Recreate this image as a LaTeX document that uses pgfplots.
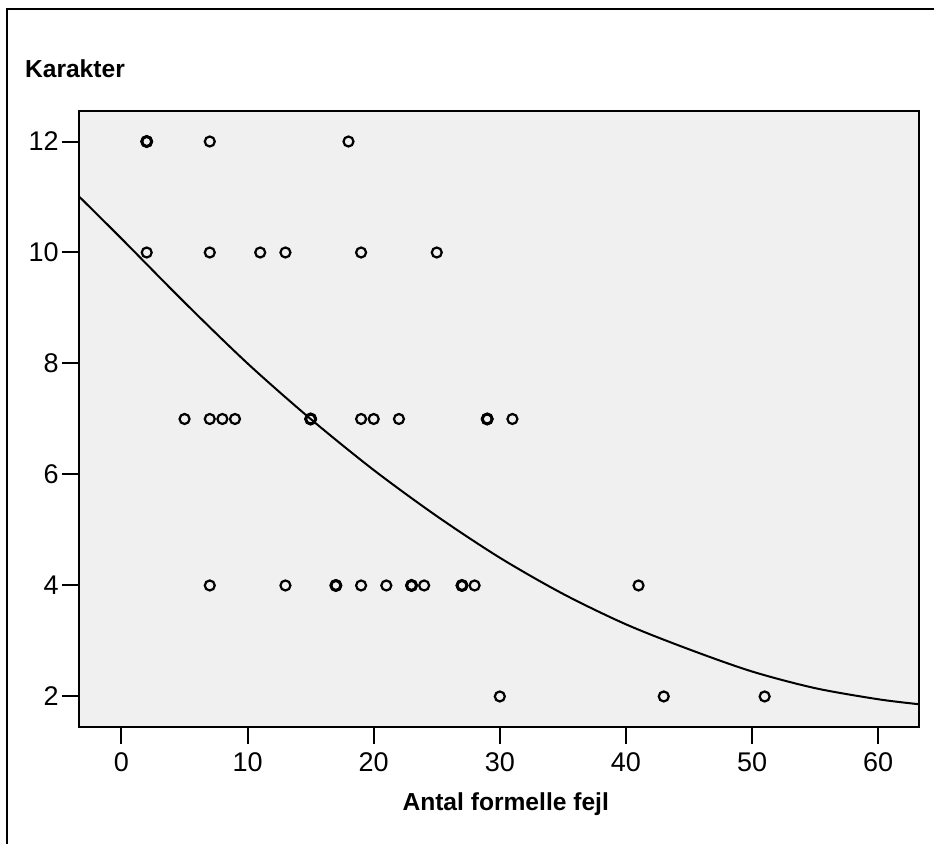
\documentclass[border=0pt]{standalone}
\usepackage{fontspec}
\setmainfont{Liberation Sans}
\usepackage{pgfplots}
\pgfplotsset{compat=1.18}
\definecolor{plotbg}{HTML}{F0F0F0}

\begin{document}
\begin{tikzpicture}
\useasboundingbox (-39.5pt,-58.5pt) rectangle (427.5pt,363.5pt);
% outer chart frame (only top and left edges are visible)
\draw[line width=1pt] (-36pt,-58.5pt) -- (-36pt,359pt) -- (427.5pt,359pt);
\begin{axis}[
  at={(0,0)}, anchor=south west,
  scale only axis, width=420pt, height=308pt,
  xmin=-3.37, xmax=63.24, ymin=1.45, ymax=12.55,
  xtick={0,10,...,60}, ytick={2,4,...,12},
  axis background/.style={fill=plotbg},
  axis line style={line width=0.6pt},
  tick align=outside, xtick pos=bottom, ytick pos=left,
  major tick length=8.5pt,
  tick style={line width=1pt, black},
  tick label style={font=\fontsize{13.5}{15}\selectfont},
  yticklabel style={inner sep=1.5pt},
  xticklabel style={inner sep=2pt, yshift=-2pt},
  /pgf/number format/assume math mode=true,
  xlabel={Antal formelle fejl}, ylabel={Karakter},
  every axis x label/.style={at={(axis description cs:0.508,0)}, anchor=base, yshift=-42pt},
  every axis y label/.style={at={(axis description cs:0,1)}, anchor=base west, xshift=-30.5pt, yshift=16.5pt},
  label style={font=\fontsize{12.3}{14}\selectfont\bfseries},
]
% observed cases (repeated pairs listed twice)
\addplot[only marks, mark=o, mark size=2.5pt, mark options={line width=1.1pt, black}] coordinates {
  (2,12) (2,12) (7,12) (18,12)
  (2,10) (7,10) (11,10) (13,10) (19,10) (25,10)
  (5,7) (7,7) (8,7) (9,7) (15,7) (15,7) (19,7) (20,7) (22,7) (29,7) (29,7) (31,7)
  (7,4) (13,4) (17,4) (17,4) (19,4) (21,4) (23,4) (23,4) (24,4) (27,4) (27,4) (28,4) (41,4)
  (30,2) (43,2) (51,2)
};
% repeated cases look heavier
\addplot[only marks, mark=o, mark size=2.5pt, mark options={line width=1.5pt, black}] coordinates {
  (2,12) (15,7) (29,7) (17,4) (23,4) (27,4)
};
% fit line
\addplot[black, line width=1pt, smooth] coordinates {
  (-3.37,11.01) (0,10.25) (5,9.1) (10,8.0) (15,7.0) (20,6.08) (25,5.25)
  (30,4.5) (35,3.85) (40,3.3) (45,2.85) (50,2.45) (55,2.15) (60,1.95) (63.24,1.86)
};
\end{axis}
\end{tikzpicture}
\end{document}
